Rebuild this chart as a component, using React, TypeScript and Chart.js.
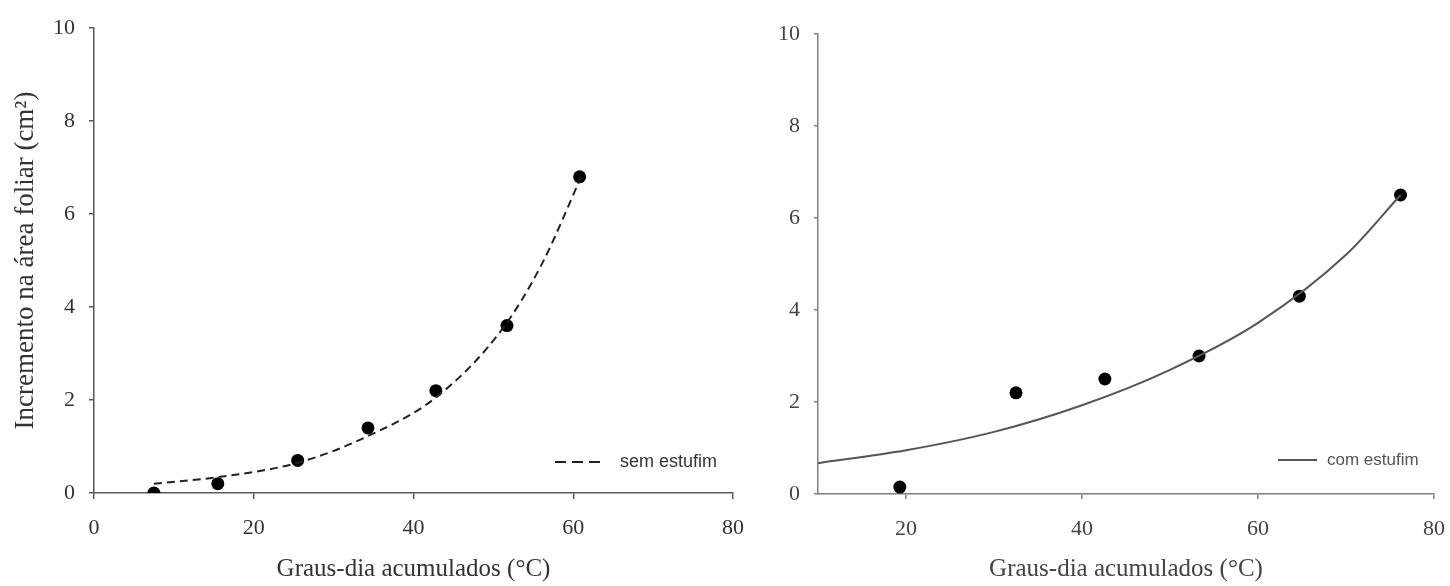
import React, { useEffect, useRef } from "react";
import { Chart, registerables } from "chart.js";

Chart.register(...registerables);

// ---- Data ----
const semX = [7.5, 15.5, 25.5, 34.3, 42.8, 51.7, 60.8];
const semY = [0.0, 0.2, 0.7, 1.4, 2.2, 3.6, 6.8];
const semCurveX = [7.5, 15.5, 25.5, 34, 43, 51, 56, 61];
const semCurveY = [0.2, 0.34, 0.65, 1.2, 2.08, 3.5, 4.9, 6.8];

const comX = [19.3, 32.5, 42.6, 53.3, 64.7, 76.2];
const comY = [0.15, 2.2, 2.5, 3.0, 4.3, 6.5];
const comCurveX = [10, 20, 30, 40, 50, 60, 70, 76.2];
const comCurveY = [0.67, 0.95, 1.35, 1.93, 2.7, 3.72, 5.2, 6.5];

const leftXTicks = [0, 20, 40, 60, 80];
const rightXTicks = [20, 40, 60, 80];
const yTicks = [0, 2, 4, 6, 8, 10];

const xTitle = "Graus-dia acumulados (°C)";
const yTitle = "Incremento na área foliar (cm²)";
const semLabel = "sem estufim";
const comLabel = "com estufim";

const pts = (xs: number[], ys: number[]) => xs.map((x, i) => ({ x, y: ys[i] }));

const SERIF = "'Liberation Serif', 'Times New Roman', serif";
const SANS = "'Liberation Sans', Arial, sans-serif";

function legendPlugin(cfg: {
  label: string;
  dash: number[];
  color: string;
  textColor: string;
  lineFrom: number;
  lineTo: number;
  textX: number;
  dy: number;
  fontSize: number;
}) {
  return {
    id: "customLegend",
    afterDraw(chart: any) {
      const { ctx, chartArea } = chart;
      const y = chartArea.bottom - cfg.dy;
      ctx.save();
      ctx.strokeStyle = cfg.color;
      ctx.lineWidth = 2;
      ctx.setLineDash(cfg.dash);
      ctx.beginPath();
      ctx.moveTo(chartArea.right - cfg.lineFrom, y);
      ctx.lineTo(chartArea.right - cfg.lineTo, y);
      ctx.stroke();
      ctx.setLineDash([]);
      ctx.fillStyle = cfg.textColor;
      ctx.font = `${cfg.fontSize}px ${SANS}`;
      ctx.textBaseline = "middle";
      ctx.textAlign = "left";
      ctx.fillText(cfg.label, chartArea.right - cfg.textX, y);
      ctx.restore();
    },
  };
}

function makeChart(
  canvas: HTMLCanvasElement,
  opts: {
    curve: { x: number; y: number }[];
    points: { x: number; y: number }[];
    dash: number[];
    lineColor: string;
    xMin: number;
    xTicks: number[];
    yScaleWidth: number;
    xScaleHeight: number;
    padding: { left: number; right: number; top: number; bottom: number };
    showYTitle: boolean;
    axisColor: string;
    labelColor: string;
    yTick: { len: number; pad: number };
    xTick: { len: number; pad: number };
    legend: any;
  }
) {
  const tickFont = { family: SERIF, size: 22 };
  const xTitleFont = { family: SERIF, size: 25 };
  const yTitleFont = { family: SERIF, size: 27 };
  return new Chart(canvas, {
    type: "scatter",
    data: {
      datasets: [
        {
          label: "curve",
          data: opts.curve,
          showLine: true,
          borderColor: opts.lineColor,
          borderWidth: 2,
          borderDash: opts.dash,
          pointRadius: 0,
          cubicInterpolationMode: "monotone",
          fill: false,
        } as any,
        {
          label: "points",
          data: opts.points,
          showLine: false,
          pointRadius: 6.5,
          pointBackgroundColor: "#000",
          pointBorderColor: "#000",
          pointBorderWidth: 0,
        } as any,
      ],
    },
    options: {
      animation: false,
      responsive: false,
      layout: { padding: opts.padding },
      plugins: {
        legend: { display: false },
        tooltip: { enabled: false },
      },
      scales: {
        x: {
          type: "linear",
          min: opts.xMin,
          max: 80,
          afterBuildTicks: (scale: any) => {
            scale.ticks = opts.xTicks.map((v) => ({ value: v }));
          },
          afterFit: (scale: any) => {
            scale.height = opts.xScaleHeight;
            scale.paddingLeft = 0;
            scale.paddingRight = 0;
          },
          grid: {
            display: true,
            drawOnChartArea: false,
            drawTicks: true,
            tickLength: opts.xTick.len,
            color: opts.axisColor,
            lineWidth: 1.5,
          },
          border: { display: true, color: opts.axisColor, width: 1.5 },
          ticks: {
            padding: opts.xTick.pad,
            color: opts.labelColor,
            font: tickFont,
            maxRotation: 0,
          },
          title: {
            display: true,
            text: xTitle,
            color: opts.labelColor,
            font: xTitleFont,
            padding: { top: 0, bottom: 2 },
          },
        },
        y: {
          type: "linear",
          min: 0,
          max: 10,
          afterBuildTicks: (scale: any) => {
            scale.ticks = yTicks.map((v) => ({ value: v }));
          },
          afterFit: (scale: any) => {
            scale.width = opts.yScaleWidth;
            scale.paddingTop = 0;
            scale.paddingBottom = 0;
          },
          grid: {
            display: true,
            drawOnChartArea: false,
            drawTicks: true,
            tickLength: opts.yTick.len,
            color: opts.axisColor,
            lineWidth: 1.5,
          },
          border: { display: true, color: opts.axisColor, width: 1.5 },
          ticks: {
            padding: opts.yTick.pad,
            color: opts.labelColor,
            font: tickFont,
          },
          title: {
            display: opts.showYTitle,
            text: yTitle,
            color: opts.labelColor,
            font: yTitleFont,
            padding: { top: 10, bottom: 0 },
          },
        },
      },
    } as any,
    plugins: [opts.legend],
  });
}

export default function App() {
  const leftRef = useRef<HTMLCanvasElement>(null);
  const rightRef = useRef<HTMLCanvasElement>(null);

  useEffect(() => {
    const left = makeChart(leftRef.current!, {
      curve: pts(semCurveX, semCurveY),
      points: pts(semX, semY),
      dash: [8, 5],
      lineColor: "#222",
      xMin: 0,
      xTicks: leftXTicks,
      yScaleWidth: 94,
      xScaleHeight: 93,
      padding: { left: 0, right: 12, top: 28, bottom: 0 },
      showYTitle: true,
      axisColor: "#595959",
      labelColor: "#333",
      yTick: { len: 5, pad: 14 },
      xTick: { len: 6, pad: 16 },
      legend: legendPlugin({
        label: semLabel,
        dash: [11, 6],
        color: "#222",
        textColor: "#333",
        lineFrom: 178,
        lineTo: 130,
        textX: 113,
        dy: 31,
        fontSize: 18,
      }),
    });
    const right = makeChart(rightRef.current!, {
      curve: pts(comCurveX, comCurveY),
      points: pts(comX, comY),
      dash: [],
      lineColor: "#555",
      xMin: 10,
      xTicks: rightXTicks,
      yScaleWidth: 73,
      xScaleHeight: 92,
      padding: { left: 0, right: 16, top: 34, bottom: 0 },
      showYTitle: false,
      axisColor: "#808080",
      labelColor: "#444",
      yTick: { len: 4, pad: 14 },
      xTick: { len: 5, pad: 17 },
      legend: legendPlugin({
        label: comLabel,
        dash: [],
        color: "#555",
        textColor: "#555",
        lineFrom: 156,
        lineTo: 117,
        textX: 107,
        dy: 34,
        fontSize: 17,
      }),
    });
    return () => {
      left.destroy();
      right.destroy();
    };
  }, []);

  return (
    <div style={{ position: "absolute", left: 0, top: 0, width: 1450, height: 586, background: "#fff" }}>
      <canvas ref={leftRef} width={745} height={586} style={{ position: "absolute", left: 0, top: 0 }} />
      <canvas ref={rightRef} width={705} height={586} style={{ position: "absolute", left: 745, top: 0 }} />
    </div>
  );
}
